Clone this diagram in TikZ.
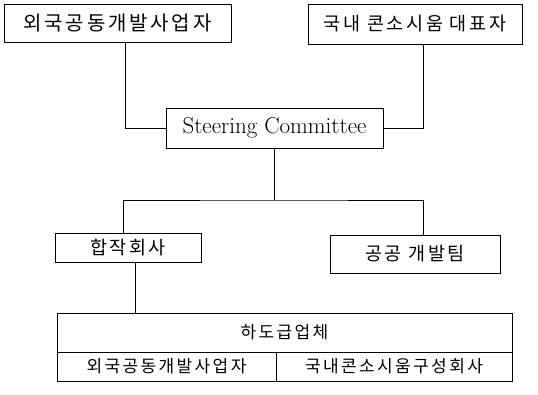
\documentclass[tikz,border=0pt]{standalone}
\usepackage{fontspec}
\newfontfamily\krfont[LetterSpace=14]{Noto Sans CJK KR}

\begin{document}
\begin{tikzpicture}[x=1pt,y=-1pt]
  \tikzset{BoxStyle/.style = {
    shape         = rectangle,
    draw          = black,
    fill          = white,
    line width    = 1pt,
    text          = black,
    inner sep     = 0pt,
    outer sep     = 0pt,
    font          = \krfont\fontsize{18.5}{20}\selectfont
    }
  }
  \tikzset{SmallBoxStyle/.style = {
    BoxStyle,
    font          = \krfont\fontsize{17}{20}\selectfont
    }
  }
  \tikzset{LinkStyle/.style = {
    draw          = black,
    line width    = 1pt
    }
  }
  \useasboundingbox (0,0) rectangle (538,394);

	\node[BoxStyle, minimum width=227pt, minimum height=38pt, font=\krfont\fontsize{20}{22}\selectfont](ForeignDev) at (117.5, 23) {외국공동개발사업자};
	\node[BoxStyle, minimum width=214pt, minimum height=40pt](DomesticRep) at (415, 24) {국내 콘소시움 대표자};
	\node[BoxStyle, minimum width=217pt, minimum height=40pt, font=\fontsize{23}{26}\selectfont](Steering) at (274.5, 128) {Steering Committee};
	\node[BoxStyle, minimum width=146pt, minimum height=29pt](JointCo) at (128, 247.5) {합작회사};
	\node[BoxStyle, minimum width=170pt, minimum height=38pt](PublicTeam) at (415, 254) {공공 개발팀};
	\node[SmallBoxStyle, minimum width=455pt, minimum height=39pt](Subcon) at (284.5, 332.5) {하도급업체};
	\node[SmallBoxStyle, minimum width=219pt, minimum height=29pt](SubForeign) at (166.5, 366.5) {외국공동개발사업자};
	\node[SmallBoxStyle, minimum width=236pt, minimum height=29pt](SubDomestic) at (394, 366.5) {국내콘소시움구성회사};
	\coordinate (Branch) at (274.5, 200);

	\draw[LinkStyle] ([xshift=7.5pt]ForeignDev.south) |- (Steering.west);
	\draw[LinkStyle] ([xshift=8pt]DomesticRep.south) |- (Steering.east);
	\draw[LinkStyle] (Steering.south) -- (Branch);
	\draw[LinkStyle] ([xshift=-5pt]JointCo.north) |- (Branch) -| ([xshift=8pt]PublicTeam.north);
	\draw[LinkStyle] ([xshift=7pt]JointCo.south) -- ([xshift=7pt]JointCo.south |- Subcon.north);

\end{tikzpicture}
\end{document}
